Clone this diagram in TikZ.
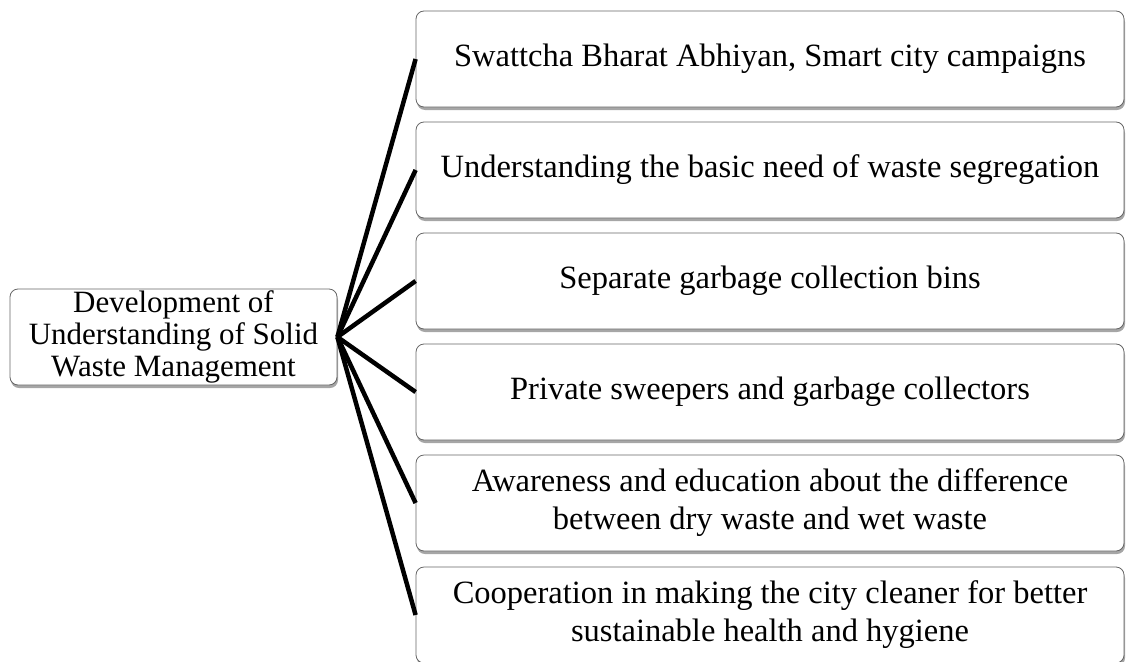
\documentclass[tikz,border=0pt]{standalone}
\usepackage{fontspec}
\setmainfont{Liberation Serif}
\usetikzlibrary{shadows}
\begin{document}
\begin{tikzpicture}[x=1pt,y=1pt,
  boxbase/.style={draw=gray!80!black, line width=0.8pt, fill=white, rounded corners=8pt,
    drop shadow={shadow xshift=1pt, shadow yshift=-3pt, fill=black, opacity=0.35},
    align=center, inner sep=0pt, text=black},
  rbox/.style={boxbase, minimum width=708pt, minimum height=96pt, font=\fontsize{32.5}{38}\selectfont},
  lbox/.style={boxbase, minimum width=327pt, minimum height=96pt, font=\fontsize{31}{32}\selectfont},
  link/.style={line width=4.5pt, black}]
\useasboundingbox (0,0) rectangle (1126,-661);
\node[lbox] (L) at (173.5,-337) {Development of\\Understanding of Solid\\Waste Management};
\node[rbox] (b1) at (770,-59) {Swattcha Bharat Abhiyan, Smart city campaigns};
\node[rbox] (b2) at (770,-170) {Understanding the basic need of waste segregation};
\node[rbox] (b3) at (770,-281) {Separate garbage collection bins};
\node[rbox] (b4) at (770,-392) {Private sweepers and garbage collectors};
\node[rbox] (b5) at (770,-503) {Awareness and education about the difference\\between dry waste and wet waste};
\node[rbox] (b6) at (770,-615) {Cooperation in making the city cleaner for better\\sustainable health and hygiene};
\foreach \b in {b1,b2,b3,b4,b5,b6}{\draw[link] (L.east) -- (\b.west);}
\end{tikzpicture}
\end{document}
